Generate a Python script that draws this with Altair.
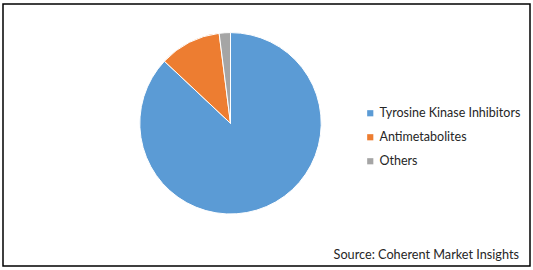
import altair as alt
import pandas as pd

categories = ["Tyrosine Kinase Inhibitors", "Antimetabolites", "Others"]
shares = [87, 11, 2]
colors = ["#5B9BD5", "#ED7D31", "#A5A5A5"]
source_text = ["Source: Coherent Market Insights"]

df = pd.DataFrame({"category": categories, "share": shares, "order": list(range(len(categories)))})
src = pd.DataFrame({"t": source_text})

pie = alt.Chart(df).mark_arc(radius=90.7, stroke="white", strokeWidth=1).encode(
    theta=alt.Theta("share:Q", stack=True),
    order=alt.Order("order:Q"),
    color=alt.Color(
        "category:N",
        sort=categories,
        scale=alt.Scale(domain=categories, range=colors),
        legend=alt.Legend(
            title=None,
            orient="none",
            legendX=361,
            legendY=103,
            symbolType="square",
            symbolSize=38,
            symbolStrokeWidth=0,
            labelFont="Lato",
            labelFontSize=12.5,
            labelColor="#262626",
            labelOffset=3,
            rowPadding=11,
        ),
    ),
    x=alt.value(227.5),
    y=alt.value(119.3),
)

txt = alt.Chart(src).mark_text(
    align="right", baseline="alphabetic", font="Lato", fontSize=12.7, color="#262626"
).encode(
    text="t:N",
    x=alt.value(516),
    y=alt.value(254.5),
)

chart = alt.layer(pie, txt).properties(
    width=527, height=262,
    padding={"left": 3, "top": 4, "right": 3, "bottom": 4},
    autosize=alt.AutoSizeParams(type="none"),
).configure_view(stroke="black", strokeWidth=1.5)

chart.save("out.html", embed_options={"renderer": "svg", "actions": False})
